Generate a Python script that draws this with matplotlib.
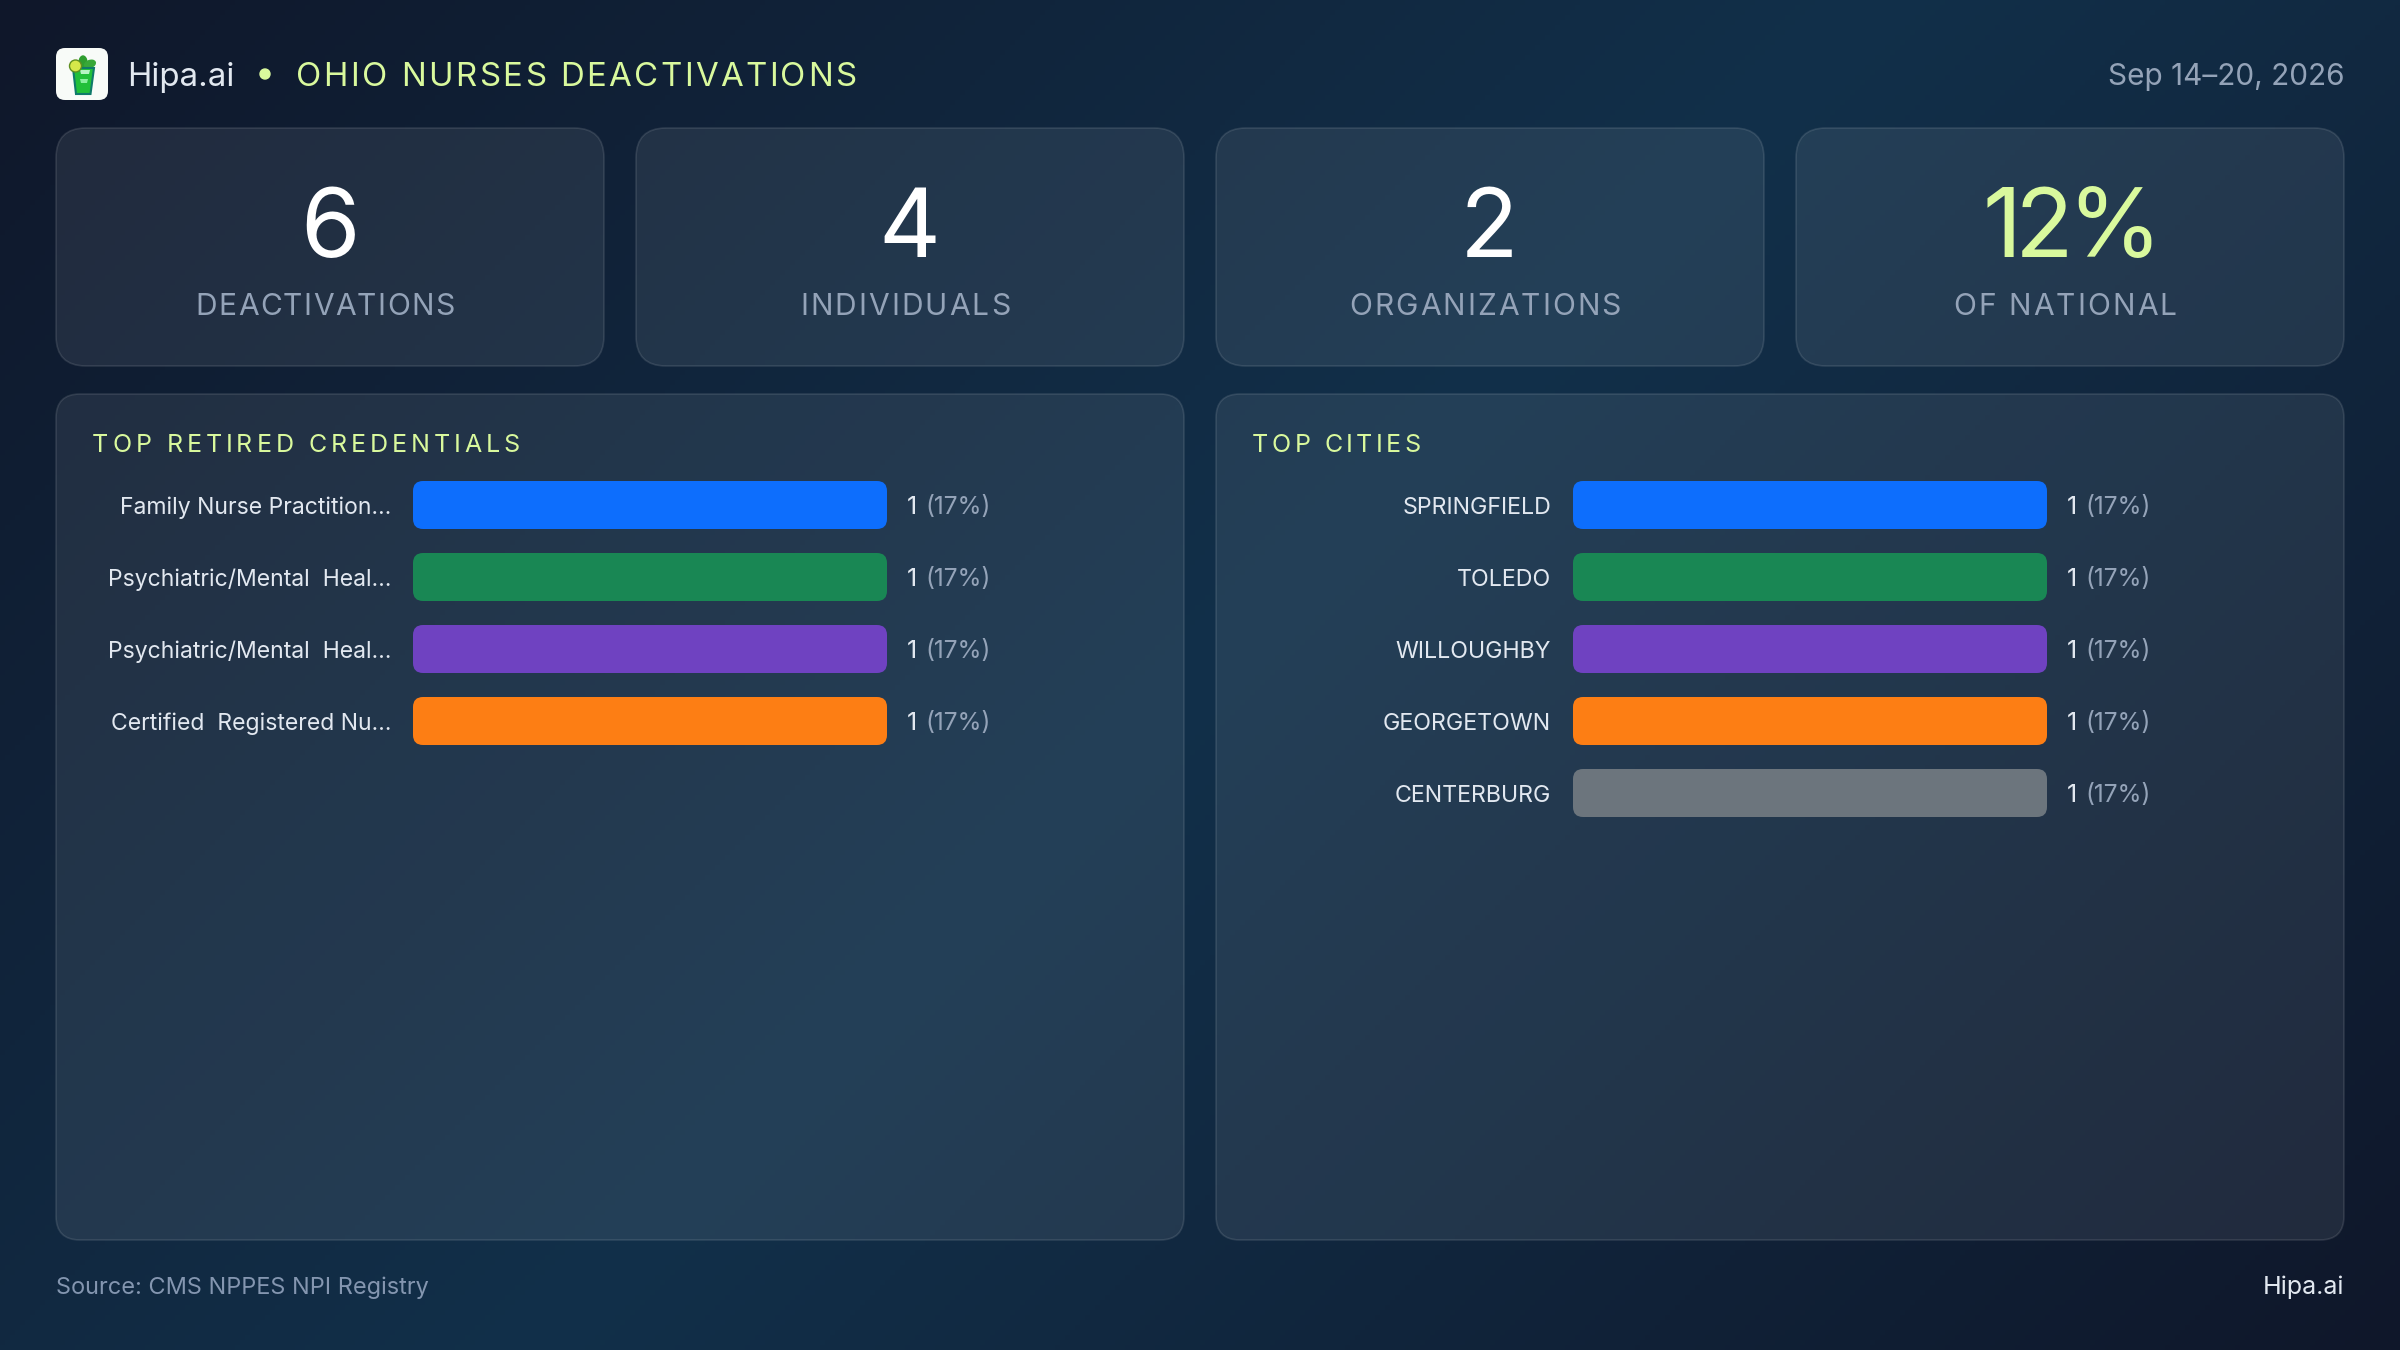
import numpy as np
import matplotlib
matplotlib.use("Agg")
import matplotlib.pyplot as plt
from matplotlib import font_manager, ft2font
from matplotlib.colors import LinearSegmentedColormap
from matplotlib.patches import FancyBboxPatch, Circle, Polygon, Ellipse
from matplotlib.text import Text

plt.rcParams['font.family'] = ['Inter', 'DejaVu Sans']

# data
header_brand = "Hipa.ai"
header_title = "OHIO NURSES DEACTIVATIONS"
header_date = "Sep 14\u201320, 2026"
stat_values = ["6", "4", "2", "12%"]
stat_labels = ["DEACTIVATIONS", "INDIVIDUALS", "ORGANIZATIONS", "OF NATIONAL"]
credentials = ["Family Nurse Practition\u2026", "Psychiatric/Mental  Heal\u2026",
               "Psychiatric/Mental  Heal\u2026", "Certified  Registered Nu\u2026"]
credential_counts = [1, 1, 1, 1]
credential_shares = [17, 17, 17, 17]
cities = ["SPRINGFIELD", "TOLEDO", "WILLOUGHBY", "GEORGETOWN", "CENTERBURG"]
city_counts = [1, 1, 1, 1, 1]
city_shares = [17, 17, 17, 17, 17]
bar_colors = ["#0d6efd", "#198754", "#6f42c1", "#fd7e14", "#6c757d"]
source_text = "Source: CMS NPPES NPI Registry"

W, H = 2400, 1350
LIME = "#d9f99d"
SLATE = "#94a3b8"
LIGHT = "#e2e8f0"


def px(size):
    # font size given in pixels of the 100 dpi figure
    return size * 0.72


class TrackedText(Text):
    # one Text with letter spacing, which matplotlib has no option for
    def __init__(self, *args, tracking=0, **kwargs):
        super().__init__(*args, **kwargs)
        self.tracking = tracking

    def advances(self):
        font = font_manager.get_font(font_manager.fontManager.findfont(self.get_fontproperties()))
        font.set_size(self.get_fontsize(), self.get_figure().dpi)
        return [font.load_char(ord(c), flags=ft2font.LoadFlags.NO_HINTING).linearHoriAdvance / 65536
                + self.tracking for c in self.get_text()]

    def draw(self, renderer):
        steps = self.advances()
        total = sum(steps) - self.tracking
        x, y = self.get_transform().transform(self.get_position())
        x -= {'left': 0, 'center': total / 2, 'right': total}[self.get_ha()]
        gc = renderer.new_gc()
        gc.set_foreground(self.get_color())
        for c, step in zip(self.get_text(), steps):
            renderer.draw_text(gc, x, renderer.height - y, c, self.get_fontproperties(), 0)
            x += step
        gc.restore()

    def get_window_extent(self, renderer=None, dpi=None):
        box = super().get_window_extent(renderer, dpi)
        extra = sum(self.advances()) - self.tracking - box.width
        shift = {'left': 0, 'center': extra / 2, 'right': extra}[self.get_ha()]
        return type(box).from_extents(box.x0 - shift, box.y0, box.x1 + extra - shift, box.y1)


def tracked(ax, x, y, s, tracking, **kwargs):
    t = TrackedText(x, y, s, tracking=tracking, va='baseline', zorder=5, **kwargs)
    ax.add_artist(t)
    return t


def card(ax, x0, y0, x1, y1, radius):
    ax.add_patch(FancyBboxPatch((x0, y0), x1 - x0, y1 - y0,
                                boxstyle=f"round,pad=0,rounding_size={radius}",
                                facecolor=(1, 1, 1, 0.08), edgecolor=(1, 1, 1, 0.11),
                                linewidth=1.2, zorder=1))


def bar_panel(fig, left, top, labels, counts, shares, label_size):
    n = len(labels)
    ax = fig.add_axes([left / W, 1 - (top + 72 * n) / H, 474 / W, 72 * n / H])
    ax.patch.set_visible(False)
    for s in ax.spines.values():
        s.set_visible(False)
    ax.set_xlim(0, max(counts))
    ax.set_ylim(n - 0.5, -0.5)
    ax.set_xticks([])
    ax.set_yticks(range(n))
    ax.set_yticklabels(labels, fontsize=px(label_size), color=LIGHT)
    ax.tick_params(axis='y', length=0, pad=px(22))

    bars = ax.barh(range(n), counts, height=48 / 72, color=bar_colors[:n])
    # round the bar corners
    r = 10 / 474
    for bar in bars:
        shape = FancyBboxPatch((bar.get_x(), bar.get_y()), bar.get_width(), bar.get_height(),
                               boxstyle=f"round,pad=0,rounding_size={r}",
                               mutation_aspect=474 / 72, transform=ax.transData)
        bar.set_clip_path(shape)

    for i, (c, s) in enumerate(zip(counts, shares)):
        ax.annotate(str(c), xy=(c, i), xytext=(px(20), 0), textcoords='offset points',
                    va='center_baseline', fontsize=px(25), color=LIGHT)
        ax.annotate(f"({s}%)", xy=(c, i), xytext=(px(38), 0), textcoords='offset points',
                    va='center_baseline', fontsize=px(24.5), color=SLATE)


fig = plt.figure(figsize=(24, 13.5), dpi=100)
bg = fig.add_axes([0, 0, 1, 1])
bg.set_xlim(0, W)
bg.set_ylim(H, 0)
bg.axis('off')

# page background, diagonal
yy, xx = np.mgrid[0:H:270j, 0:W:480j]
grad = (xx + yy) / (W + H)
cmap = LinearSegmentedColormap.from_list("page", ["#0f172a", "#12304a", "#0f172a"])
bg.imshow(grad, extent=(0, W, H, 0), cmap=cmap, vmin=0, vmax=1, aspect='auto', zorder=0)

# logo
bg.add_patch(FancyBboxPatch((56, 48), 52, 52, boxstyle="round,pad=0,rounding_size=9",
                            facecolor="#f8fbf8", edgecolor="none", zorder=2))
bg.add_patch(Ellipse((83, 63), 8, 14, angle=0, color="#2f9e2f", zorder=3))
bg.add_patch(Ellipse((90, 64), 11, 7, angle=-20, color="#38a838", zorder=3))
bg.add_patch(Polygon([(73, 68), (94, 68), (90.5, 94), (76, 94)], closed=True,
                     facecolor="#22c03a", edgecolor="#0f7a6a", linewidth=1.5, zorder=4))
bg.add_patch(Polygon([(80, 70), (90, 70), (89, 74), (81, 74)], closed=True,
                     facecolor="#b6f5c4", edgecolor="none", zorder=5))
bg.add_patch(Polygon([(80, 79), (88, 79), (87, 83), (81, 83)], closed=True,
                     facecolor="#8af0a0", edgecolor="none", zorder=5))
bg.add_patch(Circle((75.5, 66), 6, facecolor="#d6e84a", edgecolor="#5f8f20", linewidth=1, zorder=6))

# header
bg.text(127, 86, header_brand, fontsize=px(33), color=LIGHT, va='baseline', zorder=5)
bg.add_patch(Circle((265, 74), 5, color=LIME, zorder=5))
tracked(bg, 296, 86, header_title, 2.4, fontsize=px(33), color=LIME)
bg.text(2344, 85, header_date, fontsize=px(29.8), color=SLATE, ha='right', va='baseline', zorder=5)

# stat cards
card_left = [56, 636, 1216, 1796]
value_x = [330, 909, 1489, 2072]
label_x = [325, 905, 1485, 2065]
value_tracking = [0, 0, 0, -6]
label_tracking = [1.3, 2.0, 2.0, 2.0]
for i in range(4):
    card(bg, card_left[i], 128, card_left[i] + 548, 366, 30)
    color = LIME if i == 3 else "white"
    tracked(bg, value_x[i], 257, stat_values[i], value_tracking[i], fontsize=px(96),
            color=color, ha='center')
    tracked(bg, label_x[i], 315, stat_labels[i], label_tracking[i], fontsize=px(30),
            color=SLATE, ha='center')

# panels
card(bg, 56, 394, 1184, 1240, 24)
card(bg, 1216, 394, 2344, 1240, 24)
tracked(bg, 92, 452, "TOP RETIRED CREDENTIALS", 4.0, fontsize=px(25), color=LIME)
tracked(bg, 1252, 452, "TOP CITIES", 3.5, fontsize=px(25), color=LIME)

bar_panel(fig, 413, 469, credentials, credential_counts, credential_shares, 23)
bar_panel(fig, 1573, 469, cities, city_counts, city_shares, 23.2)

# footer
bg.text(56, 1294, source_text, fontsize=px(23.5), color="#8496b0", va='baseline', zorder=5)
bg.text(2344, 1294, header_brand, fontsize=px(25), color=LIGHT, ha='right', va='baseline', zorder=5)

fig.savefig("out.png", dpi=100)
